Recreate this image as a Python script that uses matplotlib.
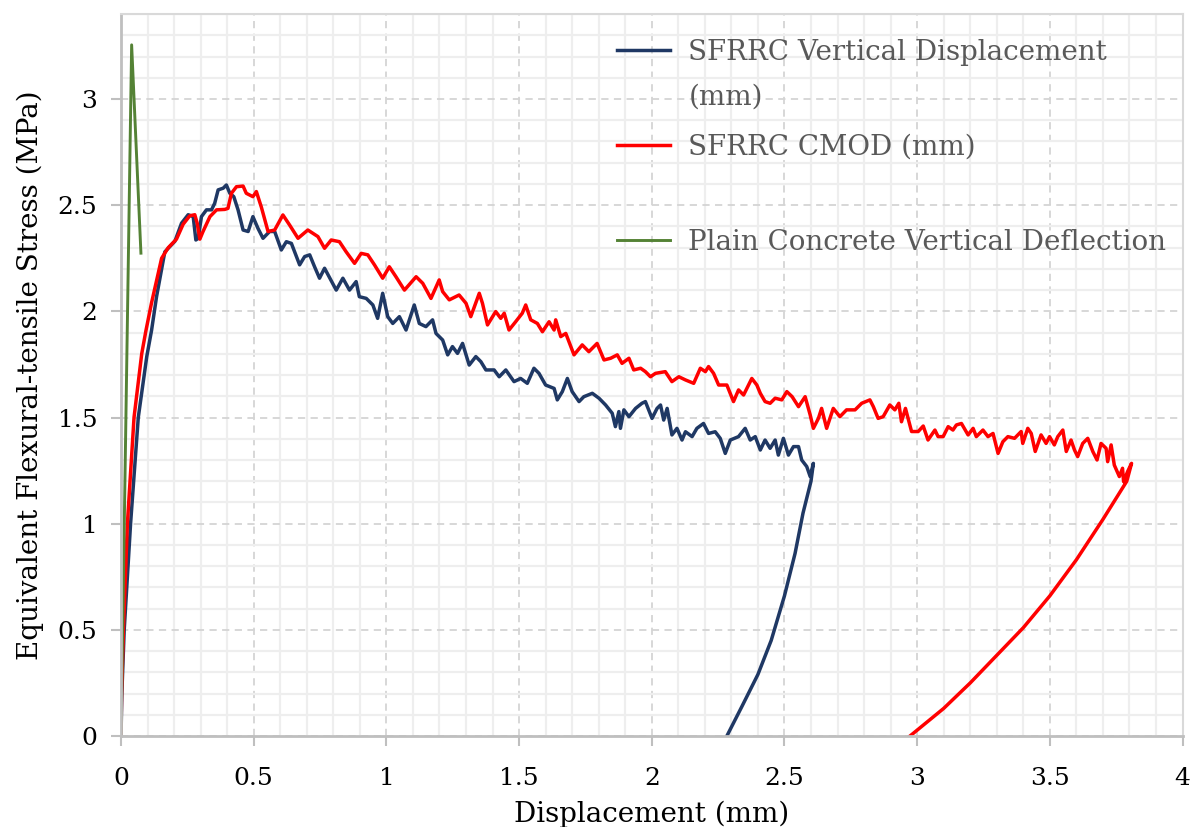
import matplotlib
matplotlib.use("Agg")
import matplotlib.pyplot as plt
import numpy as np
from matplotlib.ticker import MultipleLocator, FuncFormatter

plt.rcParams['font.family'] = ['DejaVu Serif']

# SFRRC vertical displacement (mm) vs equivalent flexural-tensile stress (MPa)
vd_x = [0, 0.003, 0.012, 0.036, 0.065, 0.097, 0.115, 0.134, 0.165, 0.203, 0.228, 0.253, 0.272,
        0.282, 0.291, 0.303, 0.322, 0.341, 0.353, 0.366, 0.385, 0.397, 0.41, 0.425, 0.441, 0.46,
        0.479, 0.497, 0.516, 0.535, 0.56, 0.579, 0.604, 0.623, 0.642, 0.673, 0.692, 0.711, 0.729,
        0.748, 0.767, 0.811, 0.836, 0.861, 0.886, 0.898, 0.924, 0.949, 0.967, 0.986, 1.005, 1.024,
        1.049, 1.074, 1.105, 1.124, 1.149, 1.174, 1.187, 1.212, 1.231, 1.249, 1.268, 1.287, 1.312,
        1.337, 1.356, 1.375, 1.406, 1.425, 1.45, 1.481, 1.506, 1.531, 1.556, 1.575, 1.6, 1.632,
        1.644, 1.663, 1.682, 1.7, 1.726, 1.744, 1.776, 1.801, 1.826, 1.851, 1.863, 1.876, 1.882,
        1.895, 1.914, 1.939, 1.963, 1.976, 2.001, 2.02, 2.033, 2.045, 2.058, 2.076, 2.095, 2.114,
        2.127, 2.152, 2.17, 2.195, 2.214, 2.239, 2.258, 2.277, 2.296, 2.327, 2.352, 2.371, 2.39,
        2.409, 2.427, 2.446, 2.465, 2.477, 2.496, 2.515, 2.534, 2.553, 2.565, 2.584, 2.597, 2.603,
        2.609, 2.6, 2.57, 2.54, 2.5, 2.45, 2.4, 2.34, 2.283]
vd_y = [0, 0.2, 0.5, 1.0, 1.5, 1.787, 1.91, 2.07, 2.28, 2.33, 2.415, 2.455, 2.446,
        2.336, 2.344, 2.446, 2.478, 2.478, 2.509, 2.572, 2.58, 2.595, 2.556, 2.54, 2.478, 2.383,
        2.376, 2.446, 2.391, 2.344, 2.376, 2.376, 2.289, 2.328, 2.32, 2.219, 2.258, 2.266, 2.211,
        2.156, 2.203, 2.1, 2.156, 2.1, 2.14, 2.069, 2.061, 2.03, 1.967, 2.085, 1.975, 1.943,
        1.975, 1.912, 2.03, 1.943, 1.928, 1.96, 1.896, 1.865, 1.795, 1.834, 1.802, 1.849, 1.747,
        1.787, 1.763, 1.724, 1.724, 1.692, 1.724, 1.669, 1.684, 1.661, 1.732, 1.708, 1.653, 1.637,
        1.583, 1.622, 1.684, 1.622, 1.575, 1.598, 1.614, 1.591, 1.559, 1.52, 1.457, 1.528, 1.449,
        1.536, 1.504, 1.543, 1.567, 1.575, 1.496, 1.543, 1.559, 1.488, 1.543, 1.418, 1.449, 1.394,
        1.433, 1.41, 1.449, 1.472, 1.425, 1.433, 1.402, 1.331, 1.394, 1.41, 1.449, 1.394, 1.41,
        1.347, 1.394, 1.355, 1.394, 1.323, 1.402, 1.323, 1.363, 1.363, 1.3, 1.269, 1.222, 1.253,
        1.284, 1.2, 1.05, 0.86, 0.66, 0.45, 0.29, 0.14, 0]

# SFRRC crack mouth opening displacement (mm)
cmod_x = [0, 0.002, 0.009, 0.024, 0.049, 0.078, 0.094, 0.115, 0.153, 0.178, 0.209, 0.234, 0.259,
          0.278, 0.287, 0.297, 0.309, 0.335, 0.36, 0.391, 0.403, 0.416, 0.435, 0.46, 0.472, 0.497,
          0.51, 0.529, 0.554, 0.579, 0.61, 0.635, 0.667, 0.704, 0.742, 0.767, 0.792, 0.823, 0.848,
          0.88, 0.905, 0.93, 0.955, 0.986, 1.011, 1.036, 1.068, 1.112, 1.137, 1.168, 1.199, 1.212,
          1.237, 1.274, 1.3, 1.318, 1.35, 1.362, 1.381, 1.412, 1.431, 1.444, 1.462, 1.487, 1.512,
          1.525, 1.544, 1.569, 1.588, 1.613, 1.632, 1.638, 1.657, 1.676, 1.707, 1.738, 1.763, 1.794,
          1.82, 1.845, 1.87, 1.888, 1.914, 1.932, 1.958, 1.976, 1.995, 2.014, 2.051, 2.076, 2.102,
          2.127, 2.158, 2.183, 2.202, 2.214, 2.233, 2.252, 2.283, 2.308, 2.327, 2.346, 2.377, 2.396,
          2.409, 2.427, 2.446, 2.465, 2.49, 2.509, 2.529, 2.553, 2.578, 2.597, 2.609, 2.628, 2.64,
          2.659, 2.684, 2.709, 2.734, 2.766, 2.791, 2.822, 2.835, 2.853, 2.872, 2.897, 2.916, 2.931,
          2.941, 2.956, 2.979, 3.004, 3.023, 3.041, 3.067, 3.079, 3.098, 3.117, 3.135, 3.148, 3.167,
          3.192, 3.211, 3.223, 3.248, 3.267, 3.286, 3.305, 3.323, 3.342, 3.367, 3.392, 3.398, 3.417,
          3.43, 3.445, 3.467, 3.486, 3.499, 3.517, 3.53, 3.549, 3.562, 3.58, 3.593, 3.605, 3.624,
          3.643, 3.662, 3.678, 3.693, 3.712, 3.718, 3.731, 3.743, 3.762, 3.774, 3.778, 3.793, 3.808,
          3.79, 3.74, 3.7, 3.6, 3.5, 3.4, 3.3, 3.2, 3.1, 2.973]
cmod_y = [0, 0.2, 0.5, 1.0, 1.5, 1.8, 1.91, 2.04, 2.25, 2.3, 2.34, 2.41, 2.45,
          2.455, 2.415, 2.34, 2.376, 2.446, 2.478, 2.48, 2.485, 2.556, 2.587, 2.59, 2.556, 2.54,
          2.564, 2.49, 2.376, 2.383, 2.454, 2.407, 2.344, 2.383, 2.352, 2.297, 2.336, 2.328, 2.281,
          2.226, 2.273, 2.266, 2.219, 2.156, 2.21, 2.163, 2.1, 2.163, 2.132, 2.061, 2.148, 2.093,
          2.054, 2.077, 2.038, 1.975, 2.085, 2.038, 1.936, 1.999, 1.967, 1.991, 1.912, 1.951, 1.991,
          2.03, 1.96, 1.943, 1.904, 1.951, 1.912, 1.96, 1.881, 1.896, 1.795, 1.842, 1.81, 1.849,
          1.771, 1.779, 1.795, 1.755, 1.779, 1.724, 1.732, 1.716, 1.692, 1.708, 1.716, 1.669, 1.692,
          1.677, 1.661, 1.732, 1.716, 1.74, 1.708, 1.653, 1.653, 1.575, 1.63, 1.606, 1.684, 1.653,
          1.614, 1.575, 1.567, 1.591, 1.583, 1.622, 1.598, 1.551, 1.598, 1.512, 1.449, 1.496, 1.543,
          1.449, 1.543, 1.504, 1.536, 1.536, 1.567, 1.583, 1.551, 1.496, 1.504, 1.559, 1.536, 1.567,
          1.48, 1.543, 1.434, 1.434, 1.46, 1.394, 1.441, 1.41, 1.41, 1.457, 1.441, 1.465, 1.472,
          1.418, 1.449, 1.41, 1.441, 1.41, 1.425, 1.331, 1.386, 1.41, 1.402, 1.434, 1.378, 1.449,
          1.425, 1.34, 1.418, 1.378, 1.41, 1.371, 1.41, 1.441, 1.34, 1.394, 1.347, 1.316, 1.378,
          1.402, 1.34, 1.3, 1.378, 1.355, 1.292, 1.371, 1.276, 1.222, 1.261, 1.198, 1.245, 1.284,
          1.2, 1.1, 1.02, 0.83, 0.66, 0.51, 0.38, 0.25, 0.13, 0]

# plain concrete vertical deflection
plain_x = [0, 0.04, 0.075]
plain_y = [0, 3.255, 2.274]

fig = plt.figure(figsize=(11.9, 8.27), dpi=100)
ax = fig.add_axes([0.1017, 0.110, 0.892, 0.873])

l1, = ax.plot(vd_x, vd_y, color='#1f3864', lw=2.5, solid_joinstyle='round')
l2, = ax.plot(cmod_x, cmod_y, color='#ff0000', lw=2.5, solid_joinstyle='round')
l3, = ax.plot(plain_x, plain_y, color='#548235', lw=2.1)

ax.set_xlim(0, 4)
ax.set_ylim(0, 3.4)
ax.xaxis.set_major_locator(MultipleLocator(0.5))
ax.yaxis.set_major_locator(MultipleLocator(0.5))
ax.xaxis.set_minor_locator(MultipleLocator(0.1))
ax.yaxis.set_minor_locator(MultipleLocator(0.1))
fmt = FuncFormatter(lambda v, p: f'{v:g}')
ax.xaxis.set_major_formatter(fmt)
ax.yaxis.set_major_formatter(fmt)

ax.set_axisbelow(True)
ax.grid(which='minor', color='#eeeeee', lw=1.6)
ax.grid(which='major', color='#d4d4d4', lw=1.3, ls=(0, (4, 3)))

for s in ['left', 'bottom']:
    ax.spines[s].set_color('#bfbfbf')
    ax.spines[s].set_linewidth(2)
for s in ['top', 'right']:
    ax.spines[s].set_color('#d9d9d9')
    ax.spines[s].set_linewidth(1.5)

ax.tick_params(which='major', length=7, width=1.5, color='#bfbfbf', labelsize=18)
ax.tick_params(axis='x', which='major', pad=15)
ax.tick_params(axis='y', which='major', pad=10)
ax.tick_params(which='minor', length=0)

ax.set_xlabel('Displacement (mm)', fontsize=20, labelpad=8)
ax.set_ylabel('Equivalent Flexural-tensile Stress (MPa)', fontsize=20, labelpad=10)

leg = ax.legend([l1, l2, l3],
                ['SFRRC Vertical Displacement', 'SFRRC CMOD (mm)', 'Plain Concrete Vertical Deflection'],
                loc='upper left', bbox_to_anchor=(0.467, 0.966), frameon=False,
                fontsize=20, handlelength=1.9, handletextpad=0.65, labelspacing=2.45,
                borderpad=0, borderaxespad=0)
for t in leg.get_texts():
    t.set_color('#595959')
ax.text(0.535, 0.885, '(mm)', transform=ax.transAxes, fontsize=20, color='#595959',
        va='center', ha='left')

fig.savefig('out.png', dpi=100)
